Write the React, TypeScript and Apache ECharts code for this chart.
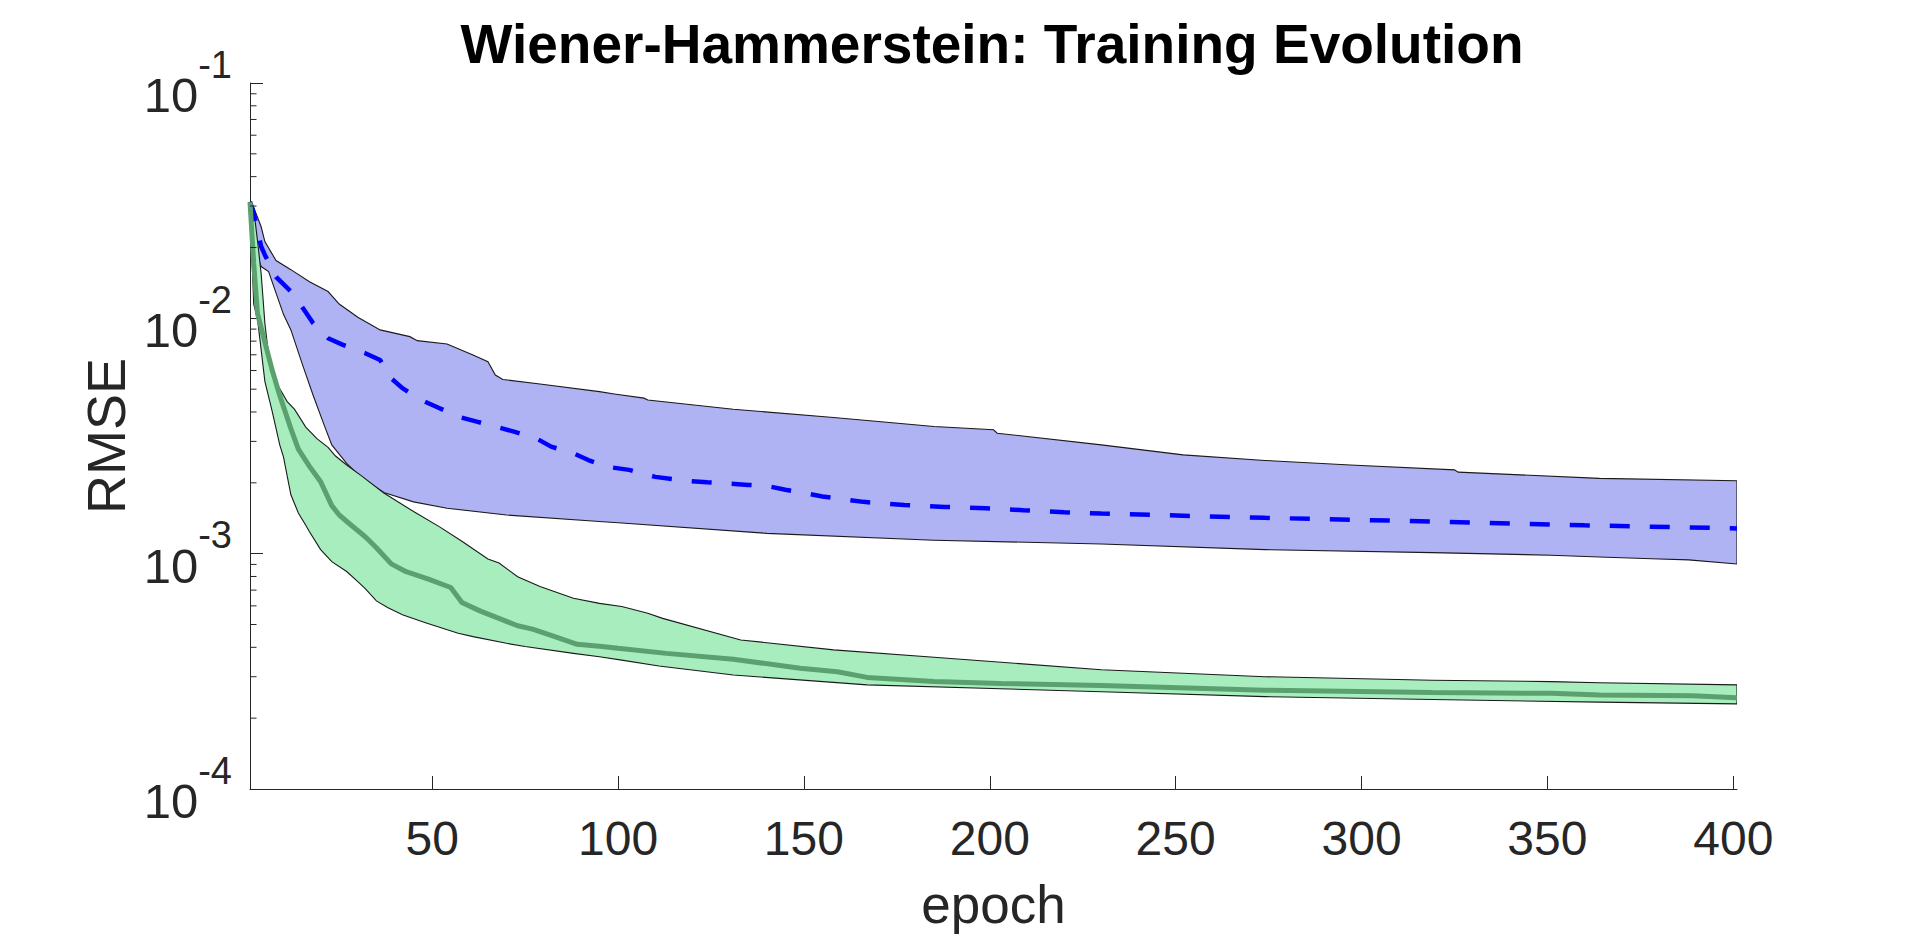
import React, { useEffect, useRef } from "react";
import * as echarts from "echarts";

const FONT = '"Liberation Sans", Arial, Helvetica, sans-serif';
const AXIS_COLOR = "#262626";

// x tick labels (epochs)
const xTickValues = [50, 100, 150, 200, 250, 300, 350, 400];
// y major ticks (log decades)
const yTickValues = [0.0001, 0.001, 0.01, 0.1];
// y minor ticks (log 2..9 of each decade)
const yMinorTicks = [
  0.0002, 0.0003, 0.0004, 0.0005, 0.0006, 0.0007, 0.0008, 0.0009,
  0.002, 0.003, 0.004, 0.005, 0.006, 0.007, 0.008, 0.009,
  0.02, 0.03, 0.04, 0.05, 0.06, 0.07, 0.08, 0.09,
];

// Blue model: band upper/lower and mean (dashed)
const blueUpper: [number, number][] = [
  [1, 0.0313], [2, 0.0296], [4, 0.0245], [5, 0.0212], [8, 0.0176], [12, 0.0161],
  [17, 0.0143], [22, 0.013], [25, 0.0115], [30, 0.0101], [36, 0.00893], [44, 0.00836],
  [46, 0.00804], [54, 0.00778], [61, 0.00698], [65, 0.00654], [67, 0.00574], [69, 0.0055],
  [79, 0.00526], [95, 0.00488], [99, 0.00477], [107, 0.00458], [108, 0.0045], [131, 0.00411],
  [158, 0.00379], [185, 0.00347], [201, 0.00336], [202, 0.00325], [230, 0.0029], [252, 0.00263],
  [274, 0.00249], [297, 0.00238], [325, 0.00227], [326, 0.00222], [364, 0.00209], [401, 0.00204],
];
const blueLower: [number, number][] = [
  [1, 0.0313], [2, 0.0222], [3, 0.0183], [4, 0.0166], [6, 0.0158], [10, 0.0104],
  [12, 0.00893], [15, 0.00644], [18, 0.0047], [21, 0.0035], [23, 0.0029], [27, 0.00242],
  [31, 0.0021], [37, 0.00182], [45, 0.00166], [54, 0.00156], [70, 0.00146], [95, 0.00137],
  [101, 0.00135], [140, 0.00122], [185, 0.00114], [230, 0.0011], [274, 0.00104], [319, 0.00101],
  [351, 0.000985], [364, 0.000968], [378, 0.000952], [388, 0.000941], [401, 0.000904],
];
const blueMean: [number, number][] = [
  [1, 0.0313], [2, 0.028], [4, 0.0202], [5, 0.0186], [8, 0.015], [12, 0.013],
  [15, 0.0112], [18, 0.00953], [22, 0.00823], [26, 0.00771], [32, 0.00711], [36, 0.00665],
  [39, 0.00556], [42, 0.00505], [47, 0.0045], [52, 0.00415], [57, 0.00382], [62, 0.00364],
  [67, 0.00347], [72, 0.0033], [78, 0.00309], [82, 0.00285], [88, 0.00267], [92, 0.0025],
  [97, 0.00234], [103, 0.00227], [110, 0.00212], [118, 0.00204], [124, 0.00201], [135, 0.00196],
  [140, 0.00194], [145, 0.00187], [155, 0.00175], [166, 0.00166], [177, 0.00161], [188, 0.00158],
  [199, 0.00156], [209, 0.00153], [220, 0.0015], [230, 0.00148], [274, 0.00142], [319, 0.00137],
  [360, 0.00132], [401, 0.00128],
];

// Green model: band upper/lower and mean (solid)
const greenUpper: [number, number][] = [
  [1, 0.0312], [2, 0.029], [3, 0.0215], [4, 0.0155], [5, 0.00953], [6, 0.007],
  [8, 0.00535], [11, 0.00443], [13, 0.0041], [16, 0.00345], [19, 0.00308], [22, 0.00283],
  [24, 0.0026], [27, 0.00238], [31, 0.00214], [37, 0.00181], [45, 0.00151], [52, 0.0013],
  [58, 0.00113], [65, 0.00095], [68, 0.000912], [73, 0.000798], [79, 0.000725], [88, 0.000646],
  [95, 0.000615], [101, 0.000596], [108, 0.000558], [112, 0.000531], [133, 0.00043], [158, 0.00039],
  [185, 0.000363], [230, 0.000321], [274, 0.0003], [319, 0.00029], [351, 0.000286], [364, 0.000283],
  [401, 0.000277],
];
const greenLower: [number, number][] = [
  [1, 0.0312], [2, 0.0115], [3, 0.01], [5, 0.0054], [7, 0.004], [9, 0.0029],
  [10, 0.00258], [12, 0.00178], [14, 0.00149], [16, 0.00132], [17, 0.00124], [20, 0.00104],
  [23, 0.000925], [27, 0.00084], [30, 0.00076], [32, 0.00071], [35, 0.00063], [38, 0.00059],
  [42, 0.00055], [48, 0.00051], [57, 0.000459], [61, 0.000444], [70, 0.000416], [75, 0.000403],
  [88, 0.000377], [95, 0.000365], [101, 0.000353], [111, 0.000333], [131, 0.000305], [167, 0.000277],
  [230, 0.000259], [274, 0.000247], [319, 0.00024], [364, 0.000234], [401, 0.00023],
];
const greenMean: [number, number][] = [
  [1, 0.0312], [2, 0.0171], [3, 0.0105], [6, 0.0069], [7, 0.006], [9, 0.0047],
  [12, 0.0034], [14, 0.00278], [17, 0.00235], [20, 0.00202], [23, 0.0016], [25, 0.00146],
  [28, 0.00133], [32, 0.00118], [35, 0.00106], [39, 0.000905], [43, 0.000838], [49, 0.00078],
  [55, 0.000718], [58, 0.00062], [63, 0.00057], [73, 0.000494], [77, 0.000478], [83, 0.000444],
  [89, 0.000412], [95, 0.000404], [100, 0.000396], [113, 0.000377], [131, 0.000356], [149, 0.000326],
  [159, 0.000315], [167, 0.000298], [185, 0.000286], [203, 0.000281], [230, 0.000275], [274, 0.000263],
  [319, 0.000257], [351, 0.000255], [364, 0.000251], [389, 0.000249], [401, 0.000244],
];

function bandSeries(upper: [number, number][], lower: [number, number][], fill: string, z: number) {
  return {
    type: "custom",
    coordinateSystem: "cartesian2d",
    silent: true,
    z,
    clip: true,
    data: [upper[0]],
    renderItem: (_params: any, api: any) => {
      const pts = [
        ...upper.map((p) => api.coord(p)),
        ...lower.slice().reverse().map((p) => api.coord(p)),
      ];
      return {
        type: "polygon",
        shape: { points: pts },
        style: { fill, stroke: "#1a1a1a", lineWidth: 1.1 },
      };
    },
  };
}

export default function App() {
  const ref = useRef<HTMLDivElement>(null);

  useEffect(() => {
    if (!ref.current) return;
    const chart = echarts.init(ref.current, undefined, { renderer: "svg" });

    const option: any = {
      animation: false,
      backgroundColor: "#ffffff",
      title: {
        text: "Wiener-Hammerstein: Training Evolution",
        left: 992,
        top: 16,
        padding: 0,
        textAlign: "center",
        textStyle: {
          fontFamily: FONT,
          fontSize: 55,
          fontWeight: "bold",
          color: "#000000",
        },
      },
      grid: {
        left: 250,
        right: 183,
        top: 83,
        bottom: 147,
        containLabel: false,
        outerBoundsMode: "none",
      },
      xAxis: {
        type: "value",
        min: 1,
        max: 401,
        name: "epoch",
        nameLocation: "middle",
        nameGap: 89,
        nameTextStyle: { fontFamily: FONT, fontSize: 53, color: AXIS_COLOR, lineHeight: 53 },
        axisLine: { show: true, lineStyle: { color: AXIS_COLOR, width: 1 } },
        axisTick: {
          show: true,
          inside: true,
          length: 13,
          customValues: xTickValues,
          lineStyle: { color: AXIS_COLOR, width: 1 },
        },
        axisLabel: {
          show: true,
          customValues: xTickValues,
          margin: 25,
          fontFamily: FONT,
          fontSize: 48,
          lineHeight: 48,
          color: AXIS_COLOR,
        },
        splitLine: { show: false },
      },
      yAxis: {
        type: "log",
        logBase: 10,
        min: 0.0001,
        max: 0.1,
        name: "RMSE",
        nameLocation: "middle",
        nameGap: 114,
        nameTextStyle: { fontFamily: FONT, fontSize: 54, color: AXIS_COLOR, lineHeight: 54 },
        axisLine: { show: true, lineStyle: { color: AXIS_COLOR, width: 1 } },
        axisTick: {
          show: true,
          inside: true,
          length: 13,
          customValues: yTickValues,
          lineStyle: { color: AXIS_COLOR, width: 1 },
        },
        axisLabel: {
          show: true,
          customValues: yTickValues,
          margin: 18,
          padding: [24, 0, 0, 0],
          formatter: (v: number) => {
            const e = Math.round(Math.log10(v));
            return "{b|10}{s|" + e + "}";
          },
          rich: {
            b: {
              fontFamily: FONT,
              fontSize: 49,
              lineHeight: 49,
              color: AXIS_COLOR,
              verticalAlign: "bottom",
            },
            s: {
              fontFamily: FONT,
              fontSize: 38,
              lineHeight: 38,
              color: AXIS_COLOR,
              verticalAlign: "bottom",
              padding: [0, 0, 36, 0],
            },
          },
        },
        splitLine: { show: false },
        minorTick: { show: false },
      },
      series: [
        bandSeries(blueUpper, blueLower, "#b0b3f3", 1),
        bandSeries(greenUpper, greenLower, "#a8edbe", 2),
        {
          type: "line",
          data: blueMean,
          showSymbol: false,
          symbol: "none",
          z: 3,
          lineStyle: { color: "#0000ff", width: 4.5, type: [20, 20] },
          silent: true,
        },
        {
          type: "line",
          data: greenMean,
          showSymbol: false,
          symbol: "none",
          z: 4,
          lineStyle: { color: "#5ba06f", width: 5 },
          silent: true,
        },
        {
          type: "custom",
          coordinateSystem: "cartesian2d",
          silent: true,
          z: 5,
          clip: false,
          data: yMinorTicks.map((v) => [1, v]),
          renderItem: (_params: any, api: any) => {
            const p = api.coord([api.value(0), api.value(1)]);
            return {
              type: "line",
              shape: { x1: p[0], y1: p[1], x2: p[0] + 6.5, y2: p[1] },
              style: { stroke: AXIS_COLOR, lineWidth: 1 },
            };
          },
        },
      ],
    };

    chart.setOption(option);
    return () => chart.dispose();
  }, []);

  return (
    <div
      ref={ref}
      style={{ position: "fixed", left: 0, top: 0, width: "1920px", height: "936px", background: "#fff" }}
    />
  );
}
